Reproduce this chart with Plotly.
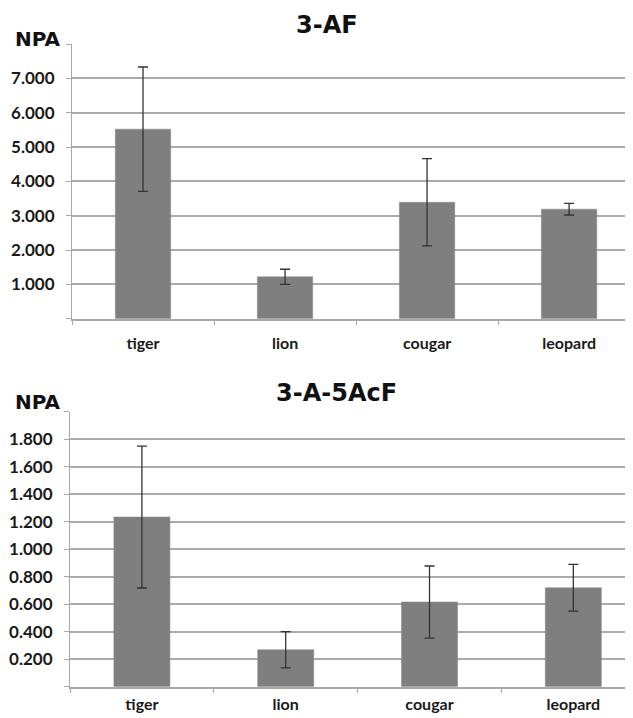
import plotly.graph_objects as go

# the page puts the figure 8 px in from the top-left corner (default body margin)
OFF = 8
W, H = 633 - OFF, 718 - OFF

categories = ["tiger", "lion", "cougar", "leopard"]

# Panel 1: 3-AF
af_values = [5.52, 1.22, 3.39, 3.19]
af_errors = [1.81, 0.22, 1.27, 0.17]
af_tickvals = [0, 1, 2, 3, 4, 5, 6, 7, 8]
af_ticktext = ["", "1.000", "2.000", "3.000", "4.000", "5.000", "6.000", "7.000", ""]

# Panel 2: 3-A-5AcF
acf_values = [1.234, 0.269, 0.616, 0.72]
acf_errors = [0.516, 0.132, 0.262, 0.17]
acf_tickvals = [0, 0.2, 0.4, 0.6, 0.8, 1.0, 1.2, 1.4, 1.6, 1.8, 2.0]
acf_ticktext = ["", "0.200", "0.400", "0.600", "0.800", "1.000", "1.200",
                "1.400", "1.600", "1.800", ""]

titles = ["3-AF", "3-A-5AcF"]
ylabel = "NPA"

BAR = "#7f7f7f"
GRID = "#ababab"
TXT = "#1a1a1a"
TICKFONT = dict(family="Lato", size=17, color=TXT, weight="bold")
CATFONT = dict(family="Lato", size=16, color=TXT, weight="bold")


def px(p):
    return (p - OFF) / W


def py(p):
    return 1 - (p - OFF) / H


fig = go.Figure()
fig.add_trace(go.Bar(x=categories, y=af_values, width=0.39,
                     marker=dict(color=BAR, line=dict(color="#888888", width=0.5)),
                     error_y=dict(type="data", array=af_errors, color="#333333",
                                  thickness=1.3, width=5),
                     xaxis="x", yaxis="y", showlegend=False))
fig.add_trace(go.Bar(x=categories, y=acf_values, width=0.39,
                     marker=dict(color=BAR, line=dict(color="#888888", width=0.5)),
                     error_y=dict(type="data", array=acf_errors, color="#333333",
                                  thickness=1.3, width=5),
                     xaxis="x2", yaxis="y2", showlegend=False))

xcommon = dict(type="category", showgrid=False, showline=True, linecolor="#a8a8a8",
               linewidth=1.5, ticks="outside", tickson="boundaries", ticklen=5,
               tickcolor="#a8a8a8", tickwidth=1, tickfont=CATFONT, fixedrange=True)
ycommon = dict(showgrid=True, gridcolor=GRID, gridwidth=1.8, zeroline=False,
               showline=True, linecolor="#a8a8a8", linewidth=1, ticks="outside",
               ticklen=5, tickcolor="#a8a8a8", tickfont=TICKFONT,
               ticklabelstandoff=8, fixedrange=True)

fig.update_layout(
    width=W, height=H, margin=dict(l=0, r=0, t=0, b=0, autoexpand=False),
    paper_bgcolor="white", plot_bgcolor="white",
    xaxis=dict(domain=[px(72), 1], range=[-0.5, 3.45], anchor="y",
               ticklabelstandoff=9, **xcommon),
    yaxis=dict(domain=[py(318.7), py(44)], range=[0, 8], tickvals=af_tickvals,
               ticktext=af_ticktext, anchor="x", **ycommon),
    xaxis2=dict(domain=[px(70), 1], range=[-0.5, 3.415], anchor="y2",
                ticklabelstandoff=2, **xcommon),
    yaxis2=dict(domain=[py(686.7), py(411.7)], range=[0, 2], tickvals=acf_tickvals,
                ticktext=acf_ticktext, anchor="x2", **ycommon),
)

TITLEFONT = dict(family="DejaVu Sans", size=24, color="#111111", weight="bold")
LABFONT = dict(family="DejaVu Sans", size=20, color="#111111", weight="bold")

fig.add_annotation(text=titles[0], x=px(327), y=py(25), xref="paper", yref="paper",
                   showarrow=False, xanchor="center", yanchor="middle", font=TITLEFONT)
fig.add_annotation(text=titles[1], x=px(336), y=py(393), xref="paper", yref="paper",
                   showarrow=False, xanchor="center", yanchor="middle", font=TITLEFONT)
fig.add_annotation(text=ylabel, x=px(13), y=py(39), xref="paper", yref="paper",
                   showarrow=False, xanchor="left", yanchor="middle", font=LABFONT)
fig.add_annotation(text=ylabel, x=px(13), y=py(401.5), xref="paper", yref="paper",
                   showarrow=False, xanchor="left", yanchor="middle", font=LABFONT)

fig.write_html("out.html")
